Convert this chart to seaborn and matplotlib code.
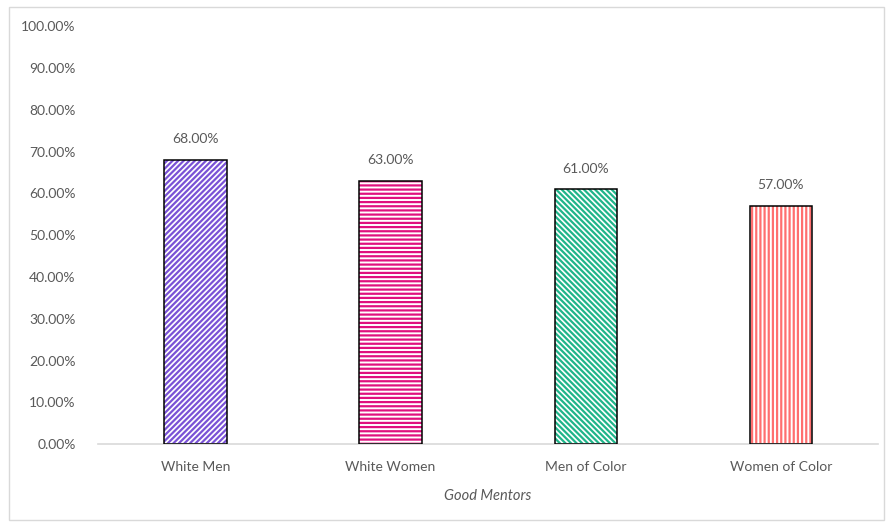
import matplotlib
matplotlib.use("Agg")
import matplotlib.pyplot as plt
from matplotlib.patches import Rectangle
from matplotlib.ticker import FuncFormatter
import seaborn as sns
import pandas as pd

# data
categories = ["White Men", "White Women", "Men of Color", "Women of Color"]
values = [0.68, 0.63, 0.61, 0.57]
hatch_colors = ["#7a52d6", "#e0107f", "#1fb58a", "#ff6f6f"]
hatches = ["//////", "----", "\\\\\\\\\\\\", "||||"]

df = pd.DataFrame({"group": categories, "share": values})

sns.set_theme(style="white")
plt.rcParams["font.family"] = ["Lato", "DejaVu Sans"]
plt.rcParams["hatch.linewidth"] = 1.6
text_grey = "#595959"

fig = plt.figure(figsize=(8.9, 5.25), dpi=100)
ax = fig.add_axes([0.110, 0.154, 0.877, 0.796])

sns.barplot(data=df, x="group", y="share", hue="group", palette=hatch_colors,
            width=0.32, legend=False, ax=ax)

# hatch in series colour, black outline on top
for p, h, c in zip(ax.patches, hatches, hatch_colors):
    p.set_facecolor("white")
    p.set_hatch(h)
    p.set_edgecolor(c)
    p.set_linewidth(0)
    ax.add_patch(Rectangle(p.get_xy(), p.get_width(), p.get_height(),
                           fill=False, edgecolor="black", linewidth=1.1, zorder=3))
    ax.text(p.get_x() + p.get_width() / 2, p.get_height() + 0.035,
            f"{p.get_height():.2%}", ha="center", va="bottom",
            fontsize=10, color=text_grey)

ax.set_ylim(0, 1.0)
ax.set_xlim(-0.5, 3.5)
ax.set_yticks([i / 10 for i in range(11)])
ax.yaxis.set_major_formatter(FuncFormatter(lambda v, _: f"{v:.2%}"))
ax.tick_params(axis="both", length=0, labelsize=10, labelcolor=text_grey)
ax.tick_params(axis="y", pad=16)
ax.tick_params(axis="x", pad=12)

ax.set_xlabel("Good Mentors", fontsize=10.5, color=text_grey, style="italic", labelpad=12)
ax.set_ylabel("")

for s in ["top", "right", "left"]:
    ax.spines[s].set_visible(False)
ax.spines["bottom"].set_color("#d9d9d9")
ax.spines["bottom"].set_linewidth(1.2)

# light frame round the chart area
fig.patches.append(Rectangle((0.010, 0.010), 0.983, 0.977, transform=fig.transFigure,
                             fill=False, edgecolor="#d9d9d9", linewidth=1.0))

fig.savefig("out.png", dpi=100)
